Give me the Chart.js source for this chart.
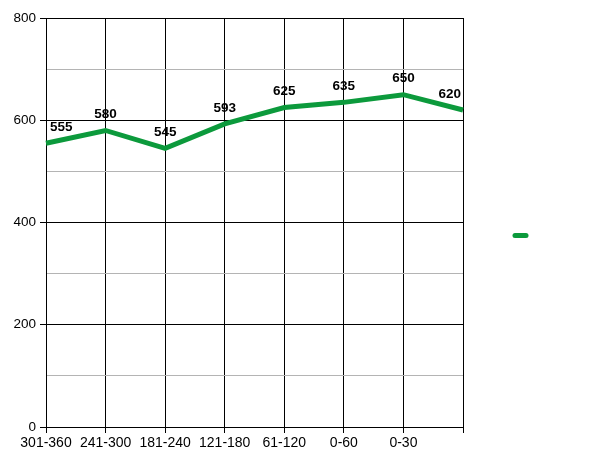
<!DOCTYPE html>
<html>
<head>
<meta charset="utf-8">
<script src="https://cdn.jsdelivr.net/npm/chart.js@4.4.0/dist/chart.umd.min.js"></script>
<style>
  html, body { margin: 0; padding: 0; background: #fff; }
  .chart-wrapper { width: 600px; height: 463px; }
</style>
</head>
<body>
<div class="chart-wrapper">
  <canvas id="chart" width="600" height="463"></canvas>
</div>
<script>
const categories = ['301-360', '241-300', '181-240', '121-180', '61-120', '0-60', '0-30', ''];
const seriesValues = [555, 580, 545, 593, 625, 635, 650, 620];
const yTicks = [0, 200, 400, 600, 800];

const lineColor = '#0c9a3c';
const fontFamily = '"Liberation Sans", Arial, sans-serif';

// value labels above each point, kept inside the plot area
const valueLabels = {
  id: 'valueLabels',
  afterDatasetsDraw(chart) {
    const ctx = chart.ctx;
    const area = chart.chartArea;
    const meta = chart.getDatasetMeta(0);
    ctx.save();
    ctx.font = 'bold 13.5px ' + fontFamily;
    ctx.fillStyle = '#000';
    ctx.textBaseline = 'middle';
    ctx.textAlign = 'center';
    meta.data.forEach((pt, i) => {
      const text = String(seriesValues[i]);
      const w = ctx.measureText(text).width;
      let x = pt.x;
      if (x - w / 2 < area.left + 4) x = area.left + 4 + w / 2;
      if (x + w / 2 > area.right - 2) x = area.right - 2 - w / 2;
      ctx.fillText(text, x, pt.y - 16);
    });
    ctx.restore();
  }
};

// small legend swatch to the right, no text
const legendSwatch = {
  id: 'legendSwatch',
  afterDraw(chart) {
    const ctx = chart.ctx;
    const area = chart.chartArea;
    const y = (area.top + area.bottom) / 2 + 13;
    ctx.save();
    ctx.strokeStyle = lineColor;
    ctx.lineWidth = 5;
    ctx.lineCap = 'round';
    ctx.beginPath();
    ctx.moveTo(area.right + 52, y);
    ctx.lineTo(area.right + 63, y);
    ctx.stroke();
    ctx.restore();
  }
};

new Chart(document.getElementById('chart').getContext('2d'), {
  type: 'line',
  data: {
    labels: categories,
    datasets: [{
      label: '',
      data: seriesValues,
      borderColor: lineColor,
      backgroundColor: lineColor,
      borderWidth: 5,
      pointRadius: 0,
      tension: 0,
      clip: false
    }]
  },
  options: {
    responsive: false,
    animation: false,
    layout: {
      padding: { top: 18, right: 137, bottom: 0, left: 0 }
    },
    plugins: {
      legend: { display: false },
      tooltip: { enabled: false }
    },
    scales: {
      x: {
        type: 'category',
        offset: false,
        afterFit: scale => { scale.height = 36; },
        grid: {
          color: '#000',
          lineWidth: 1,
          tickLength: 6,
          tickColor: '#000'
        },
        border: { color: '#000', width: 1 },
        ticks: {
          autoSkip: false,
          maxRotation: 0,
          minRotation: 0,
          color: '#000',
          padding: 2,
          font: { family: fontFamily, size: 14 }
        }
      },
      y: {
        min: 0,
        max: 800,
        afterFit: scale => { scale.width = 46; },
        grid: {
          color: ctx => (yTicks.includes(ctx.tick.value) ? '#000' : '#b4b4b4'),
          tickColor: ctx => (yTicks.includes(ctx.tick.value) ? '#000' : 'rgba(0,0,0,0)'),
          lineWidth: 1,
          tickLength: 6
        },
        border: { color: '#000', width: 1 },
        ticks: {
          stepSize: 100,
          color: '#000',
          padding: 4,
          font: { family: fontFamily, size: 13.5 },
          callback: v => (yTicks.includes(v) ? v : '')
        }
      }
    }
  },
  plugins: [valueLabels, legendSwatch]
});
</script>
</body>
</html>
